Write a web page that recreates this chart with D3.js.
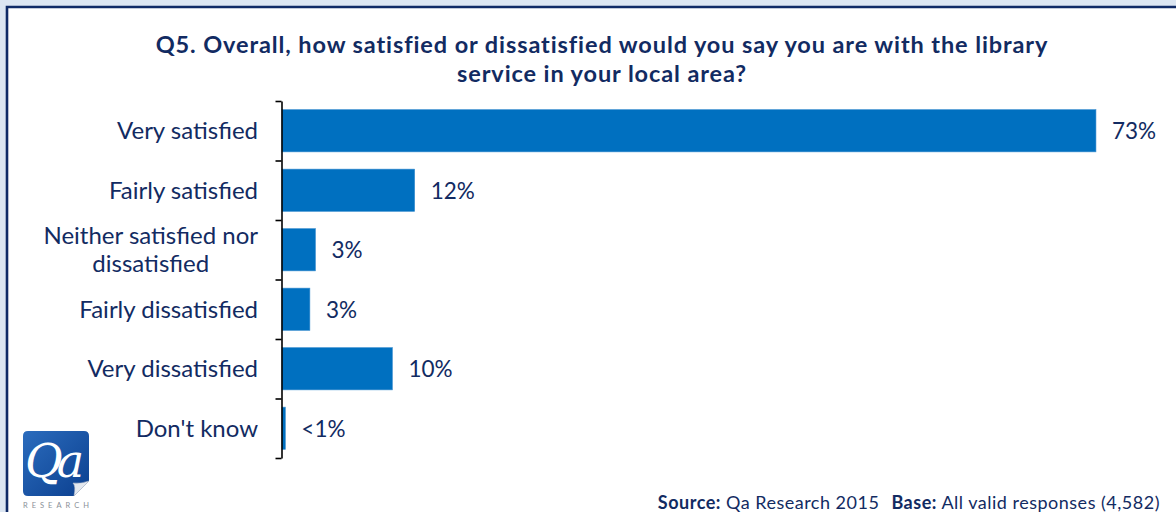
<!DOCTYPE html>
<html>
<head>
<meta charset="utf-8">
<script src="https://cdn.jsdelivr.net/npm/d3@7"></script>
<style>
  html, body { margin: 0; padding: 0; background: #dce6f2; }
  svg { display: block; }
  text { font-family: Lato, "Open Sans", sans-serif; }
</style>
</head>
<body>
<svg id="chart" width="1176" height="512"></svg>
<script>
// Survey answers, top to bottom
const categories = [
  "Very satisfied",
  "Fairly satisfied",
  "Neither satisfied nor dissatisfied",
  "Fairly dissatisfied",
  "Very dissatisfied",
  "Don't know"
];
// Share of respondents (%)
const values = [73, 11.9, 3.0, 2.5, 9.9, 0.3];
// Wrapped category labels
const categoryLines = [
  ["Very satisfied"],
  ["Fairly satisfied"],
  ["Neither satisfied nor", "dissatisfied"],
  ["Fairly dissatisfied"],
  ["Very dissatisfied"],
  ["Don't know"]
];
const titleLines = [
  "Q5. Overall, how satisfied or dissatisfied would you say you are with the library",
  "service in your local area?"
];

const W = 1176, H = 512;
const navy = "#122b62";
const barBlue = "#0070c0";

const svg = d3.select("#chart");

// Page background and framed white panel
svg.append("rect").attr("width", W).attr("height", H).attr("fill", "#dce6f2");
svg.append("rect").attr("x", 7).attr("y", 7).attr("width", W).attr("height", H).attr("fill", "#ffffff");
svg.append("path")
  .attr("d", `M7,${H} L7,7 L${W},7`)
  .attr("fill", "none").attr("stroke", "#0f2a66").attr("stroke-width", 2.6);

// Title
svg.append("text")
  .attr("x", 602).attr("y", 53)
  .attr("text-anchor", "middle")
  .attr("fill", navy)
  .style("font-weight", "bold").style("font-size", "23.5px")
  .style("letter-spacing", "0.9px")
  .selectAll("tspan").data(titleLines).join("tspan")
  .attr("x", 602).attr("dy", (d, i) => i === 0 ? 0 : 29)
  .text(d => d);

// Scales
const x = d3.scaleLinear().domain([0, 80]).range([282, 282 + 80 * 11.15]);
const y = d3.scaleBand().domain(categories).range([101, 458])
  .paddingInner(0.29).paddingOuter(0.145);
const boundary = d3.scaleLinear().domain([0, categories.length]).range([101, 458]);

// Bars
svg.append("g").selectAll("rect").data(categories).join("rect")
  .attr("x", x(0))
  .attr("y", d => y(d))
  .attr("width", (d, i) => x(values[i]) - x(0))
  .attr("height", y.bandwidth())
  .attr("fill", barBlue)
  .attr("stroke", "#3d8fd0").attr("stroke-width", 0.6);

// Category axis with ticks between categories
const axis = svg.append("g")
  .attr("transform", `translate(${x(0) - 0.5},0)`)
  .call(d3.axisLeft(boundary)
    .tickValues(d3.range(categories.length + 1))
    .tickFormat("")
    .tickSize(6)
    .tickSizeOuter(0));
axis.select(".domain").attr("stroke", "#000").attr("stroke-width", 1.6);
axis.selectAll(".tick line").attr("stroke", "#000").attr("stroke-width", 1.6);

// Category labels (wrapped lines centred on each other, right-aligned as a block)
const labelRight = 258;
const lineGap = 28;
categories.forEach((c, i) => {
  const lines = categoryLines[i];
  const cy = y(c) + y.bandwidth() / 2;
  const g = svg.append("g");
  const texts = lines.map((ln, k) =>
    g.append("text")
      .attr("y", cy + 8.5 + (k - (lines.length - 1) / 2) * lineGap)
      .attr("fill", navy)
      .style("font-size", "24px")
      .text(ln));
  const widths = texts.map(t => t.node().getComputedTextLength());
  const maxW = d3.max(widths);
  const center = labelRight - maxW / 2;
  texts.forEach(t => t.attr("x", center).attr("text-anchor", "middle"));
});

// Value labels
const fmt = v => v < 1 ? "<1%" : Math.round(v) + "%";
svg.append("g").selectAll("text").data(categories).join("text")
  .attr("x", (d, i) => x(values[i]) + 16)
  .attr("y", d => y(d) + y.bandwidth() / 2 + 8.5)
  .attr("fill", navy)
  .style("font-size", "22.5px")
  .text((d, i) => fmt(values[i]));

// Footer note
const foot = svg.append("text")
  .attr("x", 1160).attr("y", 509)
  .attr("text-anchor", "end")
  .attr("fill", navy)
  .style("font-size", "18px")
  .style("letter-spacing", "0.5px");
foot.append("tspan").style("font-weight", "bold").text("Source:");
foot.append("tspan").text(" Qa Research 2015");
foot.append("tspan").attr("dx", 12).style("font-weight", "bold").text("Base:");
foot.append("tspan").text(" All valid responses (4,582)");

// Company logo
const defs = svg.append("defs");
const grad = defs.append("linearGradient").attr("id", "logoGrad")
  .attr("x1", "0").attr("y1", "0").attr("x2", "1").attr("y2", "1");
grad.append("stop").attr("offset", "0%").attr("stop-color", "#2b6cbd");
grad.append("stop").attr("offset", "100%").attr("stop-color", "#0b3f8f");
const logo = svg.append("g").attr("transform", "translate(23,431)");
logo.append("path")
  .attr("d", "M5,0 H61 Q66,0 66,5 V50 L51,65 H5 Q0,65 0,60 V5 Q0,0 5,0 Z")
  .attr("fill", "url(#logoGrad)");
logo.append("path")
  .attr("d", "M66,50 L51,65 Q53,55 50,52 Q58,53 66,50 Z")
  .attr("fill", "#e4e8ee").attr("stroke", "#b7bfcb").attr("stroke-width", 0.5);
logo.append("text")
  .attr("x", 2).attr("y", 46)
  .attr("fill", "#ffffff")
  .style("font-family", "'DejaVu Serif', 'Liberation Serif', serif")
  .style("font-style", "italic")
  .style("font-size", "46px")
  .style("letter-spacing", "-6px")
  .text("Qa");
svg.append("text")
  .attr("x", 23).attr("y", 508)
  .attr("fill", "#8a8f97")
  .style("font-size", "7.5px")
  .style("letter-spacing", "4px")
  .text("RESEARCH");
</script>
</body>
</html>
